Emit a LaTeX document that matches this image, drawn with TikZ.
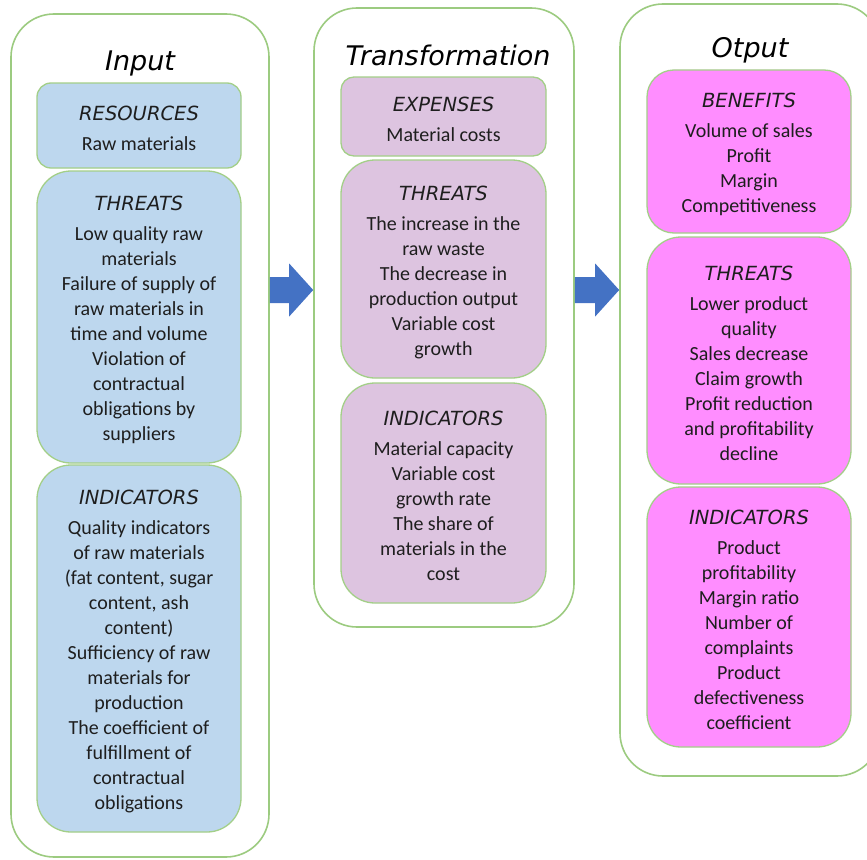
\documentclass[tikz,border=0pt]{standalone}
\usepackage{fontspec}
\setmainfont{Carlito}
\newfontfamily\headfont{DejaVu Sans}
\usetikzlibrary{calc}
\definecolor{frameGreen}{HTML}{9CCB80}
\definecolor{boxGreen}{HTML}{A3CF88}
\definecolor{inFill}{HTML}{BDD7EE}
\definecolor{trFill}{HTML}{DDC4E0}
\definecolor{outFill}{HTML}{FF8DFF}
\definecolor{arrBlue}{HTML}{4472C4}
\definecolor{txt}{HTML}{1E1E1E}
\tikzset{
  container/.style={draw=frameGreen, line width=1.6pt, fill=white, rounded corners=43pt, inner sep=0pt},
  itembox/.style={draw=boxGreen, line width=1.3pt, inner sep=0pt, align=center, text=txt,
    font=\fontsize{20}{25}\selectfont},
  title/.style={font=\headfont\itshape\fontsize{27}{30}\selectfont, text=black, inner sep=0pt},
  blockarrow/.style={fill=arrBlue, draw=none}
}
\newcommand{\hd}[1]{\rule{0pt}{21pt}{\headfont\itshape\fontsize{19.5}{25}\selectfont #1}\\[5pt]}
\begin{document}
\begin{tikzpicture}[x=1pt,y=-1pt]
\useasboundingbox (0,0) rectangle (867,859);
\clip (0,0) rectangle (867,859);
% containers
\node[container, minimum width=258pt, minimum height=843pt] (inp) at (140,435.5) {};
\node[container, minimum width=260pt, minimum height=619pt] (trn) at (444,317.5) {};
\node[container, minimum width=260pt, minimum height=772pt] (outp) at (750,390) {};
% titles
\node[title] (tin) at (140,63) {Input};
\node[title] (ttr) at (448,55) {Transformation};
\node[title] (tout) at (750,50) {Otput};
% input boxes
\node[itembox, fill=inFill, rounded corners=14pt, minimum width=204pt, minimum height=85pt] (ires) at (139,125.5)
 {\hd{RESOURCES}Raw materials};
\node[itembox, fill=inFill, rounded corners=34pt, minimum width=204pt, minimum height=292pt] (ithr) at (139,317)
 {\hd{THREATS}Low quality raw\\materials\\Failure of supply of\\raw materials in\\time and volume\\Violation of\\contractual\\obligations by\\suppliers};
\node[itembox, fill=inFill, rounded corners=34pt, minimum width=204pt, minimum height=367pt] (iind) at (139,648.5)
 {\hd{INDICATORS}Quality indicators\\of raw materials\\(fat content, sugar\\content, ash\\content)\\Sufficiency of raw\\materials for\\production\\The coefficient of\\fulfillment of\\contractual\\obligations};
% transformation boxes
\node[itembox, fill=trFill, rounded corners=13pt, minimum width=205pt, minimum height=79pt] (texp) at (443.5,116.5)
 {\hd{EXPENSES}Material costs};
\node[itembox, fill=trFill, rounded corners=34pt, minimum width=205pt, minimum height=218pt] (tthr) at (443.5,269)
 {\hd{THREATS}The increase in the\\raw waste\\The decrease in\\production output\\Variable cost\\growth};
\node[itembox, fill=trFill, rounded corners=34pt, minimum width=205pt, minimum height=220pt] (tind) at (443.5,493)
 {\hd{INDICATORS}Material capacity\\Variable cost\\growth rate\\The share of\\materials in the\\cost};
% output boxes
\node[itembox, fill=outFill, rounded corners=27pt, minimum width=204pt, minimum height=163pt] (oben) at (749,151.5)
 {\hd{BENEFITS}Volume of sales\\Profit\\Margin\\Competitiveness};
\node[itembox, fill=outFill, rounded corners=34pt, minimum width=204pt, minimum height=247pt] (othr) at (749,360.5)
 {\hd{THREATS}Lower product\\quality\\Sales decrease\\Claim growth\\Profit reduction\\and profitability\\decline};
\node[itembox, fill=outFill, rounded corners=34pt, minimum width=204pt, minimum height=260pt] (oind) at (749,617)
 {\hd{INDICATORS}Product\\profitability\\Margin ratio\\Number of\\complaints\\Product\\defectiveness\\coefficient};
% arrows
\coordinate (a1s) at (inp.east |- 0,290);
\coordinate (a1e) at (trn.west |- 0,290);
\coordinate (a2s) at (trn.east |- 0,290);
\coordinate (a2e) at (outp.west |- 0,290);
\foreach \s/\e in {a1s/a1e,a2s/a2e}{
  \fill[blockarrow] ($(\s)+(0,-13)$) -- ($(\e)+(-24,-13)$) -- ($(\e)+(-24,-26.5)$) -- (\e)
    -- ($(\e)+(-24,26.5)$) -- ($(\e)+(-24,13)$) -- ($(\s)+(0,13)$) -- cycle;
}
\end{tikzpicture}
\end{document}
